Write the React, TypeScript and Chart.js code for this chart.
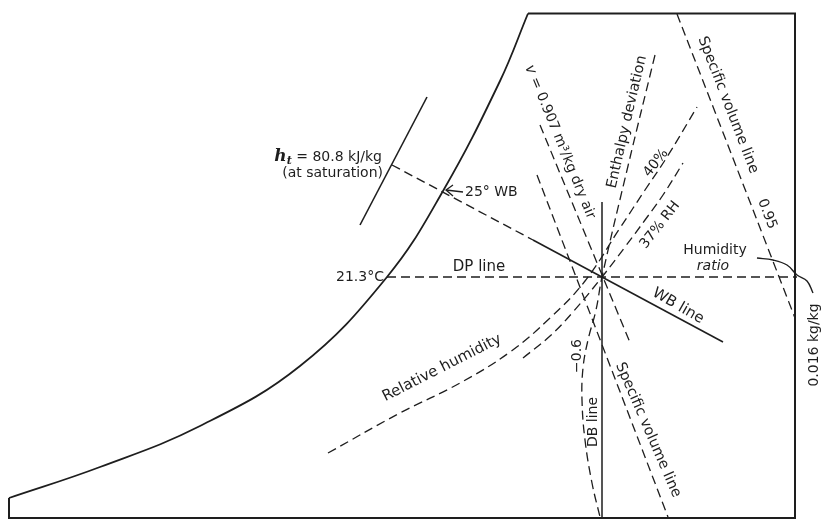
import React, { useEffect, useRef } from "react";
import { Chart, registerables } from "chart.js";

Chart.register(...registerables);

type P = { x: number; y: number };

// ---- Chart data (schematic coordinates: x to the right, y downward) ----
const frameLine: P[] = [
  { x: 528, y: 13.5 }, { x: 795, y: 13.5 }, { x: 795, y: 518 }, { x: 9, y: 518 }, { x: 9, y: 498 },
];
const saturationCurve: P[] = [
  { x: 9, y: 498 }, { x: 100, y: 467 }, { x: 200, y: 426 }, { x: 300, y: 366 }, { x: 387, y: 277 },
  { x: 443, y: 191 }, { x: 500, y: 81 }, { x: 528, y: 13.5 },
];
const enthalpySatLine: P[] = [{ x: 360, y: 225 }, { x: 427, y: 97 }];
const wbDashed: P[] = [{ x: 392, y: 165 }, { x: 533, y: 240 }];
const wbSolid: P[] = [{ x: 533, y: 240 }, { x: 723, y: 342 }];
const dpLine: P[] = [{ x: 387, y: 277 }, { x: 797, y: 277 }];
const dbLine: P[] = [{ x: 602, y: 202 }, { x: 602, y: 518 }];
const vLine0907: P[] = [{ x: 540, y: 125 }, { x: 631, y: 345 }];
const vLineLower: P[] = [{ x: 537, y: 175 }, { x: 668, y: 517 }];
const vLine095: P[] = [{ x: 677, y: 14 }, { x: 795, y: 318 }];
const enthalpyDeviation: P[] = [
  { x: 655, y: 55 }, { x: 628, y: 166 }, { x: 602, y: 277 }, { x: 596, y: 310 }, { x: 588, y: 340 },
  { x: 583, y: 368 }, { x: 582, y: 400 }, { x: 585, y: 440 }, { x: 592, y: 483 }, { x: 600, y: 517 },
];
const rh40: P[] = [
  { x: 328, y: 453 }, { x: 400, y: 413 }, { x: 460, y: 383 }, { x: 510, y: 352 }, { x: 550, y: 318 },
  { x: 585, y: 281 }, { x: 620, y: 228 }, { x: 645, y: 190 }, { x: 667, y: 157 }, { x: 697, y: 107 },
];
const rh37: P[] = [
  { x: 523, y: 358 }, { x: 550, y: 336 }, { x: 573, y: 312 }, { x: 602, y: 277 }, { x: 625, y: 247 },
  { x: 645, y: 220 }, { x: 663, y: 195 }, { x: 683, y: 163 },
];
const wbArrowShaft: P[] = [{ x: 463, y: 192 }, { x: 446, y: 190 }];
const wbArrowHead: P[] = [{ x: 453, y: 185 }, { x: 446, y: 190 }, { x: 453, y: 196 }];
const humidityLeader: P[] = [
  { x: 757, y: 258 }, { x: 773, y: 260 }, { x: 787, y: 265 }, { x: 797, y: 275 }, { x: 807, y: 281 }, { x: 813, y: 293 },
];

// ---- Labels ----
const F = "DejaVu Sans";
type Part = { t: string; font: string; dy?: number };
type Label = { parts: Part[]; x: number; y: number; angle: number; align: "left" | "right" | "center" };
const txt = (t: string, size = 14, style = ""): Part[] => [{ t, font: `${style} ${size}px "${F}"` }];

const labels: Label[] = [
  {
    parts: [
      { t: "h", font: `italic bold 17px "DejaVu Serif"` },
      { t: "t", font: `italic bold 11px "DejaVu Serif"`, dy: 4 },
      { t: " = 80.8 kJ/kg", font: `14px "${F}"` },
    ],
    x: 382, y: 157, angle: 0, align: "right",
  },
  { parts: txt("(at saturation)"), x: 383, y: 173, angle: 0, align: "right" },
  { parts: txt("25° WB"), x: 465, y: 192, angle: 0, align: "left" },
  { parts: txt("21.3°C"), x: 384, y: 277, angle: 0, align: "right" },
  { parts: txt("DP line", 15), x: 479, y: 267, angle: 0, align: "center" },
  {
    parts: [
      { t: "v", font: `italic 15px "${F}"` },
      { t: " = 0.907 m³/kg dry air", font: `14px "${F}"` },
    ],
    x: 560, y: 142, angle: 67.7, align: "center",
  },
  { parts: txt("Enthalpy deviation", 14.5), x: 627, y: 122, angle: -77, align: "center" },
  { parts: txt("40%", 14), x: 656, y: 163, angle: -52, align: "center" },
  { parts: txt("37% RH", 14), x: 660, y: 225, angle: -52, align: "center" },
  { parts: txt("Specific volume line", 14.5), x: 728, y: 105, angle: 68.8, align: "center" },
  { parts: txt("0.95", 14), x: 767, y: 214, angle: 68.8, align: "center" },
  { parts: txt("Humidity", 14), x: 715, y: 250, angle: 0, align: "center" },
  { parts: txt("ratio", 14, "italic"), x: 713, y: 266, angle: 0, align: "center" },
  { parts: txt("0.016 kg/kg", 14), x: 814, y: 345, angle: -90, align: "center" },
  { parts: txt("WB line", 15), x: 678, y: 306, angle: 30, align: "center" },
  { parts: txt("Relative humidity", 15), x: 442, y: 368, angle: -27, align: "center" },
  { parts: txt("−0.6", 14), x: 577, y: 356, angle: -90, align: "center" },
  { parts: txt("DB line", 14), x: 593, y: 422, angle: -90, align: "center" },
  { parts: txt("Specific volume line", 14.5), x: 648, y: 430, angle: 66.6, align: "center" },
];

const INK = "#1e1e1e";
const DASH = [9, 5];

const labelPlugin = {
  id: "schematicLabels",
  afterDatasetsDraw(chart: any) {
    const { ctx, scales } = chart;
    const xs = scales.x, ys = scales.y;
    ctx.save();
    ctx.fillStyle = INK;
    ctx.textBaseline = "middle";
    ctx.textAlign = "left";
    for (const l of labels) {
      const px = xs.getPixelForValue(l.x);
      const py = ys.getPixelForValue(l.y);
      ctx.save();
      ctx.translate(px, py);
      ctx.rotate((l.angle * Math.PI) / 180);
      let total = 0;
      for (const p of l.parts) {
        ctx.font = p.font;
        total += ctx.measureText(p.t).width;
      }
      let cx = l.align === "right" ? -total : l.align === "left" ? 0 : -total / 2;
      for (const p of l.parts) {
        ctx.font = p.font;
        ctx.fillText(p.t, cx, p.dy || 0);
        cx += ctx.measureText(p.t).width;
      }
      ctx.restore();
    }
    ctx.restore();
  },
};

function ds(data: P[], width: number, dash: number[], tension = 0) {
  return {
    data,
    showLine: true,
    borderColor: INK,
    backgroundColor: INK,
    borderWidth: width,
    borderDash: dash,
    pointRadius: 0,
    pointHoverRadius: 0,
    fill: false,
    tension,
    borderCapStyle: "butt",
  };
}

export default function App() {
  const ref = useRef<HTMLCanvasElement>(null);
  useEffect(() => {
    document.body.style.margin = "0";
    const chart = new Chart(ref.current as HTMLCanvasElement, {
      type: "scatter",
      data: {
        datasets: [
          ds(frameLine, 2, []),
          ds(saturationCurve, 1.8, [], 0.4),
          ds(enthalpySatLine, 1.6, []),
          ds(wbDashed, 1.4, DASH),
          ds(wbSolid, 1.6, []),
          ds(dpLine, 1.4, DASH),
          ds(dbLine, 1.5, []),
          ds(vLine0907, 1.3, DASH),
          ds(vLineLower, 1.3, DASH),
          ds(vLine095, 1.3, DASH),
          ds(enthalpyDeviation, 1.3, DASH, 0.4),
          ds(rh40, 1.3, DASH, 0.4),
          ds(rh37, 1.3, DASH, 0.4),
          ds(wbArrowShaft, 1.3, []),
          ds(wbArrowHead, 1.3, []),
          ds(humidityLeader, 1.4, [], 0.4),
        ] as any,
      },
      options: {
        animation: false,
        responsive: false,
        maintainAspectRatio: false,
        layout: { padding: 0 },
        events: [],
        plugins: { legend: { display: false }, tooltip: { enabled: false } },
        scales: {
          x: { type: "linear", min: 0, max: 821, display: false },
          y: { type: "linear", min: 0, max: 524, reverse: true, display: false },
        },
      },
      plugins: [labelPlugin],
    });
    return () => chart.destroy();
  }, []);
  return (
    <div style={{ width: 821, height: 524, background: "#fff" }}>
      <canvas ref={ref} width={821} height={524} style={{ display: "block" }} />
    </div>
  );
}
